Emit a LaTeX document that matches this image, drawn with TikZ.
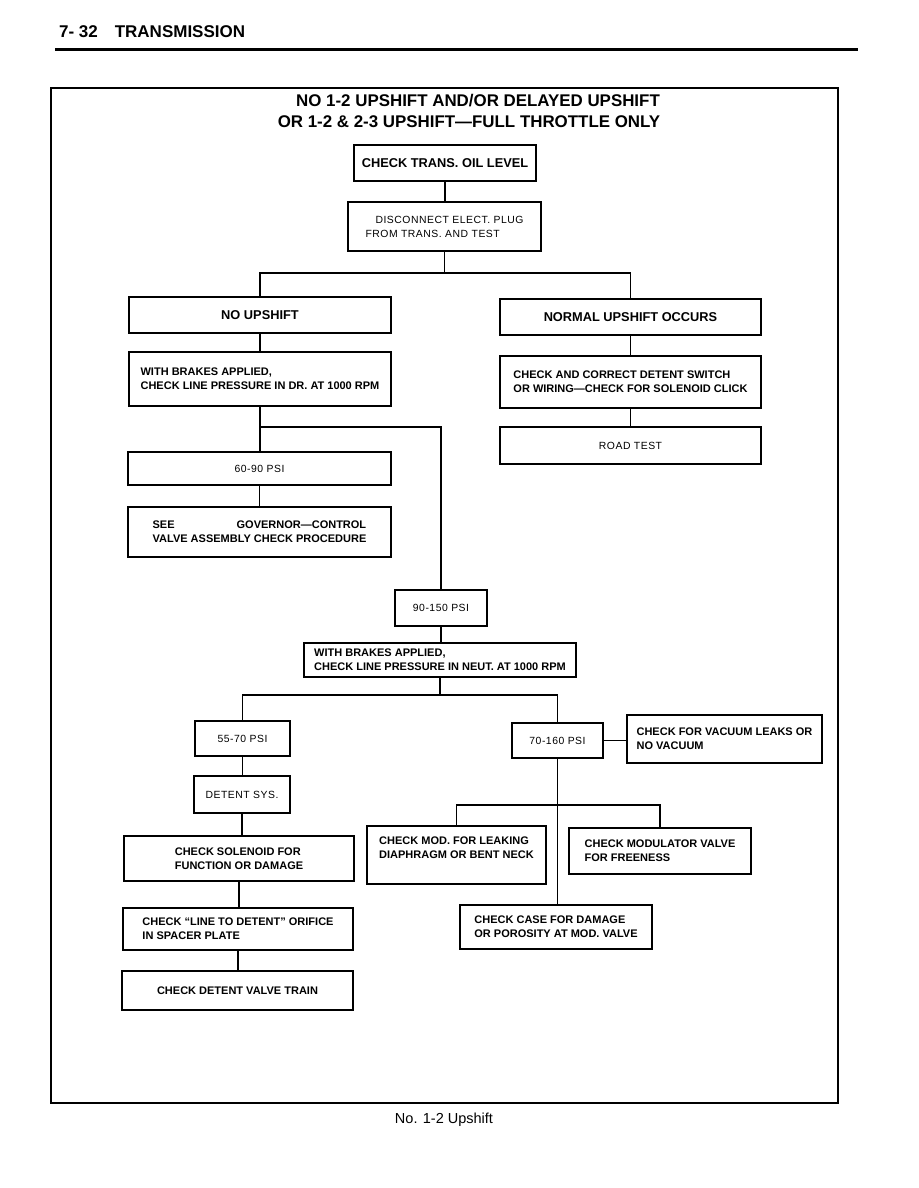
\documentclass[tikz,border=0pt]{standalone}
\usepackage{fontspec}
\setmainfont{Liberation Sans}
\newfontfamily\spacedfont[LetterSpace=5]{Liberation Sans}
\usetikzlibrary{positioning, calc}

\begin{document}
\begin{tikzpicture}[x=1pt, y=-1pt, line width=1.5pt,
    flow/.style={draw, line width=1.6pt, inner sep=0pt, align=left},
    bigtxt/.style={font=\fontsize{12.8}{15}\selectfont\bfseries},
    smtxt/.style={font=\fontsize{11}{14}\selectfont\bfseries},
    regtxt/.style={font=\spacedfont\fontsize{10.4}{14}\selectfont}]
  \useasboundingbox (0,0) rectangle (918,1188);

  % page header and frame
  \node[anchor=base west, font=\fontsize{17}{18}\selectfont\bfseries]
        (pagehead) at (55,38) {7- 32\hspace{17pt}TRANSMISSION};
  \draw[line width=3pt] (55,50) -- (858,50);
  \draw[line width=1.1pt] (51,88) rectangle (838,1103);
  \node[font=\fontsize{16.9}{18}\selectfont\bfseries] (title1) at (478,101)
        {NO 1-2 UPSHIFT AND/OR DELAYED UPSHIFT};
  \node[font=\fontsize{16.9}{18}\selectfont\bfseries] (title2) at (469,122)
        {OR 1-2 \& 2-3 UPSHIFT—FULL THROTTLE ONLY};

  % top of chart
  \node[flow, bigtxt, minimum width=182pt, minimum height=36pt] (oil) at (445,163)
        {CHECK TRANS. OIL LEVEL};
  \node[flow, regtxt, minimum width=193pt, minimum height=49pt] (unplug) at (444.5,226.5)
        {\hspace*{10pt}DISCONNECT ELECT. PLUG\\FROM TRANS. AND TEST};
  \node[flow, bigtxt, minimum width=262pt, minimum height=36pt] (noup) at (260,315)
        {NO UPSHIFT};
  \node[flow, bigtxt, minimum width=261pt, minimum height=36pt] (normup) at (630.5,317)
        {NORMAL UPSHIFT OCCURS};

  % no upshift side
  \node[flow, smtxt, minimum width=262pt, minimum height=54pt] (drline) at (260,379)
        {WITH BRAKES APPLIED,\\CHECK LINE PRESSURE IN DR. AT 1000 RPM};
  \node[flow, regtxt, minimum width=263pt, minimum height=33pt] (lowdr) at (259.5,468.5)
        {60-90 PSI};
  \node[flow, smtxt, minimum width=263pt, minimum height=50pt] (govchk) at (259.5,532)
        {SEE\hspace{62pt}GOVERNOR—CONTROL\\VALVE ASSEMBLY CHECK PROCEDURE};
  \node[flow, regtxt, minimum width=92pt, minimum height=36pt] (highdr) at (441,608)
        {90-150 PSI};
  \node[flow, smtxt, minimum width=272pt, minimum height=34pt] (neutline) at (440,660)
        {WITH BRAKES APPLIED,\\CHECK LINE PRESSURE IN NEUT. AT 1000 RPM};

  % normal upshift side
  \node[flow, smtxt, minimum width=261pt, minimum height=52pt] (detsw) at (630.5,382)
        {CHECK AND CORRECT DETENT SWITCH\\OR WIRING—CHECK FOR SOLENOID CLICK};
  \node[flow, regtxt, minimum width=261pt, minimum height=37pt] (road) at (630.5,445.5)
        {ROAD TEST};

  % neutral pressure results
  \node[flow, regtxt, minimum width=95pt, minimum height=35pt] (lowneut) at (242.5,738.5)
        {55-70 PSI};
  \node[flow, regtxt, minimum width=91pt, minimum height=35pt] (highneut) at (557.5,740.5)
        {70-160 PSI};
  \node[flow, smtxt, minimum width=195pt, minimum height=48pt] (vacuum) at (724.5,739)
        {CHECK FOR VACUUM LEAKS OR\\NO VACUUM};
  \node[flow, regtxt, minimum width=96pt, minimum height=37pt] (detsys) at (242,794.5)
        {DETENT SYS.};
  \node[flow, smtxt, minimum width=230pt, minimum height=45pt] (solenoid) at (239,858.5)
        {CHECK SOLENOID FOR\\FUNCTION OR DAMAGE};
  \node[flow, smtxt, minimum width=230pt, minimum height=42pt] (orifice) at (238,929)
        {CHECK “LINE TO DETENT” ORIFICE\hspace{14pt}\\IN SPACER PLATE};
  \node[flow, smtxt, minimum width=231pt, minimum height=39pt] (valvetrain) at (237.5,990.5)
        {CHECK DETENT VALVE TRAIN};
  \node[flow, smtxt, minimum width=179pt, minimum height=58pt, text depth=14pt] (modleak) at (456.5,855)
        {CHECK MOD. FOR LEAKING\\DIAPHRAGM OR BENT NECK};
  \node[flow, smtxt, minimum width=182pt, minimum height=46pt] (modfree) at (660,851)
        {CHECK MODULATOR VALVE\hspace{10pt}\\FOR FREENESS};
  \node[flow, smtxt, minimum width=192pt, minimum height=44pt] (casechk) at (556,927)
        {CHECK CASE FOR DAMAGE\\OR POROSITY AT MOD. VALVE};

  % connectors
  \draw (oil.south) -- (oil.south |- unplug.north);
  \draw (unplug.south) -- ++(0,21) -| (noup.north);
  \draw (unplug.south) -- ++(0,21) -| (normup.north);
  \draw (noup.south) -- (noup.south |- drline.north);
  \draw (normup.south) -- (normup.south |- detsw.north);
  \draw (detsw.south) -- (detsw.south |- road.north);
  \draw (drline.south) -- (drline.south |- lowdr.north);
  \draw (drline.south) -- ++(0,20) -| (highdr.north);
  \draw (lowdr.south) -- (lowdr.south |- govchk.north);
  \draw (highdr.south) -- (highdr.south |- neutline.north);
  \draw (neutline.south) -- ++(0,17) -| (lowneut.north);
  \draw (neutline.south) -- ++(0,17) -| (highneut.north);
  \draw (highneut.east) -- (highneut.east -| vacuum.west);
  \draw (lowneut.south) -- (lowneut.south |- detsys.north);
  \draw (detsys.south) -- (detsys.south |- solenoid.north);
  \draw (solenoid.south) -- (solenoid.south |- orifice.north);
  \draw (orifice.south) -- (orifice.south |- valvetrain.north);
  \draw (highneut.south) -- (highneut.south |- casechk.north);
  \coordinate (modfork) at ($(highneut.south)+(0,46)$);
  \draw (modleak.north) |- (modfork) -| (modfree.north);

  \node[font=\fontsize{14.5}{16}\selectfont] (caption) at (444,1120) {No. 1-2 Upshift};
\end{tikzpicture}
\end{document}
